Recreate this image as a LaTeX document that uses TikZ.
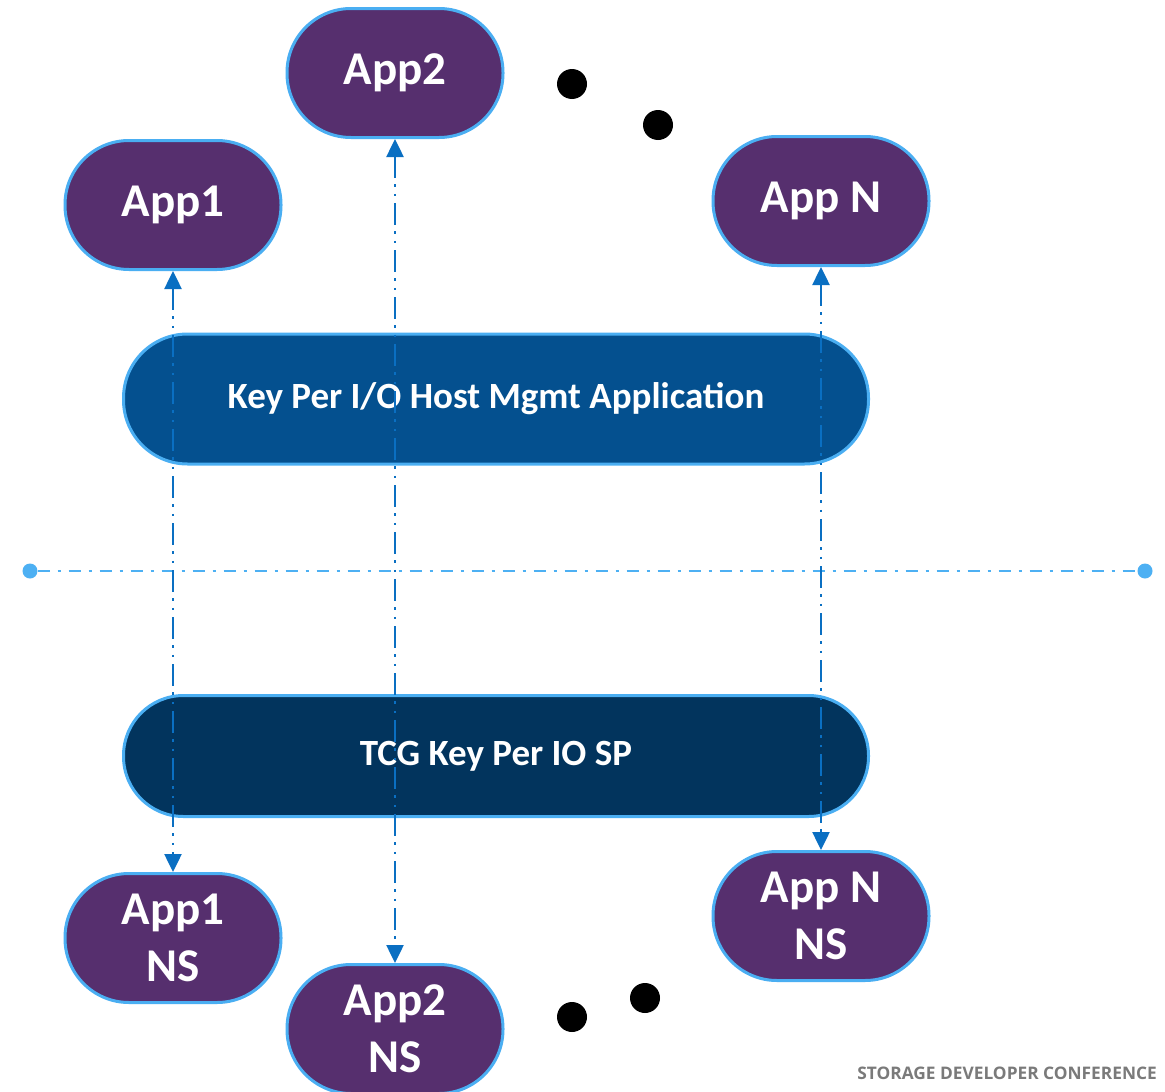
\documentclass[tikz,border=0pt]{standalone}
\usepackage{fontspec}
\setmainfont{Carlito}
\newfontfamily\footfont{Open Sans}
\usetikzlibrary{arrows.meta}
\definecolor{apppurple}{HTML}{562F6E}
\definecolor{rimblue}{HTML}{4AAEF2}
\definecolor{hostblue}{HTML}{04508F}
\definecolor{spnavy}{HTML}{02345D}
\definecolor{linkblue}{HTML}{0A6FC2}
\definecolor{splitblue}{HTML}{4DB0F3}
\definecolor{footgray}{HTML}{7A7A7A}
\tikzset{
  x=1pt, y=-1pt,
  appbox/.style={draw=rimblue, line width=3pt, fill=apppurple, rounded corners=64pt,
    minimum width=216pt, minimum height=129pt, text=white, align=center,
    font=\fontsize{47}{57}\selectfont\bfseries, inner sep=0pt},
  barbox/.style={draw=rimblue, line width=3pt, rounded corners=#1,
    minimum width=745pt, text=white, inner sep=0pt,
    font=\fontsize{37}{42}\selectfont\bfseries},
  link/.style={draw=linkblue, line width=2.5pt,
    dash pattern=on 22pt off 6pt on 2.5pt off 7pt on 2.5pt off 7pt,
    {Triangle[length=18pt,width=17pt]}-{Triangle[length=18pt,width=17pt]}},
  split/.style={draw=splitblue, line width=2.5pt,
    dash pattern=on 12pt off 8pt on 3pt off 8pt},
  enddot/.style={circle, fill=splitblue, minimum size=15pt, inner sep=0pt},
  blackdot/.style={circle, fill=black, minimum size=30pt, inner sep=0pt}
}
\begin{document}
\begin{tikzpicture}
\useasboundingbox (0,0) rectangle (1165,1092);
\fill[white] (0,0) rectangle (1165,1092);

% host side and SP bars
\node[barbox=64pt, fill=hostblue, minimum height=130pt] (host) at (496,399) {Key Per I/O Host Mgmt Application};
\node[barbox=60pt, fill=spnavy, minimum height=121pt] (sp) at (496,756) {TCG Key Per IO SP};

% host / device boundary
\node[enddot] (sl) at (30,571) {};
\node[enddot] (sr) at (1145,571) {};
\draw[split] (sl) -- (sr);

% applications
\node[appbox] (a1) at (173,205) {App1};
\node[appbox] (a2) at (395,73) {App2};
\node[appbox] (an) at (821,201) {App N};

% namespaces
\node[appbox] (n1) at (173,938) {App1\\NS};
\node[appbox] (n2) at (395,1029) {App2\\NS};
\node[appbox] (nn) at (821,916) {App N\\NS};

% per-application key paths
\draw[link] (a1.south) -- (n1.north);
\draw[link] (a2.south) -- (n2.north);
\draw[link] (an.south) -- (nn.north);

% ellipsis dots
\node[blackdot] (d1) at (572,84) {};
\node[blackdot] (d2) at (658,125) {};
\node[blackdot] (d3) at (572,1017) {};
\node[blackdot] (d4) at (645,998) {};

\node[anchor=east, text=footgray, font=\footfont\fontsize{17.3}{20}\selectfont\bfseries, inner sep=0pt] (foot) at (1157,1073) {STORAGE DEVELOPER CONFERENCE};
\end{tikzpicture}
\end{document}
